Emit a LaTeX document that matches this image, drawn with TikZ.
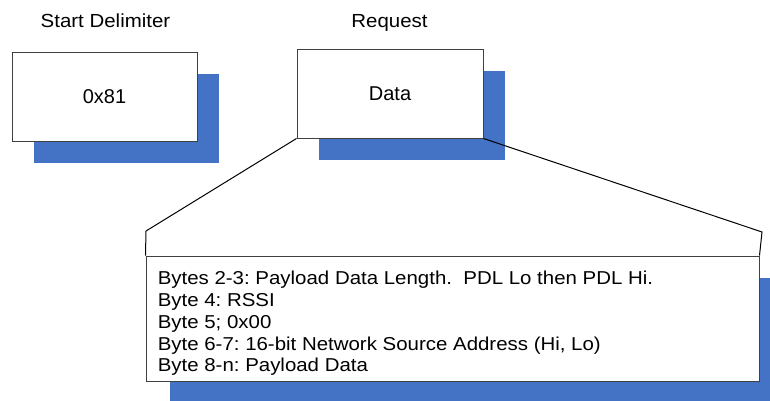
\documentclass[tikz,border=0pt]{standalone}
\usepackage{fontspec}
\setmainfont{Liberation Sans}
\usetikzlibrary{shadows}
\definecolor{shadowblue}{HTML}{4472C4}
\frenchspacing

\begin{document}
\begin{tikzpicture}[x=0.75pt,y=-0.75pt,
	frame/.style={draw=black!75, line width=0.75pt, fill=white,
		drop shadow={shadow xshift=#1, shadow yshift=-16.5pt, fill=shadowblue, opacity=1}},
	frame/.default=16.5pt,
	headlabel/.style={font=\fontsize{14.2pt}{17pt}\selectfont, xscale=1.08, anchor=base, inner sep=0pt},
	bytes/.style={font=\fontsize{14pt}{16.3pt}\selectfont, xscale=1.095, anchor=north west, inner sep=0pt, align=left}]
					\useasboundingbox (0,0) rectangle (770,400);
					\clip (0,0) rectangle (770,400);
					
					%TITRES
					\node[headlabel] (delimtitle) at (105.5,27.7) {Start Delimiter};
					\node[headlabel] (datatitle) at (389.5,27.7) {Request};
					%BOITES
					\node[frame, minimum width=138.75pt, minimum height=66.75pt, font=\fontsize{15pt}{18pt}\selectfont] (delim) at (104.5,96.5) {0x81};
					\node[frame, minimum width=139.5pt, minimum height=66.75pt, font=\fontsize{15pt}{18pt}\selectfont] (data) at (390,93.5) {Data};
					\node[frame=18pt, minimum width=459.75pt, minimum height=93.75pt] (info) at (452.5,318.5) {};
					%DETAIL
					\coordinate (textpos) at (157.5,271);
					\node[bytes] (payload) at (textpos) {Bytes 2-3: Payload Data Length.\ \ PDL Lo then PDL Hi.\\
						Byte 4: RSSI\\
						Byte 5; 0x00\\
						Byte 6-7: 16-bit Network Source Address (Hi, Lo)\\
						Byte 8-n: Payload Data};
					%LIGNES
					\coordinate (cl) at (146,231);
					\coordinate (cr) at (762,232);
					\draw[line width=0.75pt] (data.south west) -- (cl) -- (info.north west);
					\draw[line width=0.75pt] (data.south east) -- (cr) -- (info.north east);
				
				  \end{tikzpicture}
\end{document}
